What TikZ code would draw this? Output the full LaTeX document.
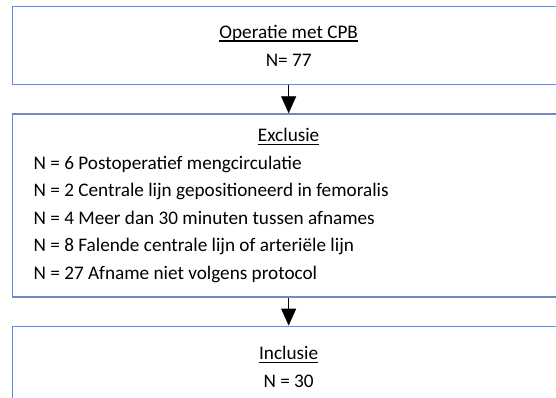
\documentclass[tikz,border=0pt]{standalone}
\usepackage{fontspec}
\setmainfont{Carlito}
\usetikzlibrary{arrows.meta,positioning}
\definecolor{boxBlue}{RGB}{118,136,192}

% underline as in the reference, a bit heavier than \underline
\newcommand{\headLine}[1]{\setbox0\hbox{#1}\rlap{\rule[-3pt]{\wd0}{1.1pt}}\box0}

\begin{document}
\begin{tikzpicture}[>={Triangle[width=15pt,length=17pt]}]

  \tikzstyle{flowBox} = [draw=boxBlue, line width=1.3pt, rectangle, minimum width=552pt, inner sep=0pt, font={\fontsize{19.2}{27.5}\selectfont}]
  \tikzstyle{flowEdge} = [black, line width=0.9pt, ->];

  % page size is fixed, the boxes run past the right and bottom edge
  \useasboundingbox (0,0) rectangle (556pt,-398pt);
  \clip (0,0) rectangle (556pt,-398pt);

  \node[flowBox, name=operatie, minimum height=78pt, align=center, anchor=north west] at (12pt,-6pt) {\headLine{Operatie met CPB}\\N= 77};
  \node[flowBox, name=exclusie, below=28pt of operatie, minimum height=183pt, text width=510pt, align=flush left] {\makebox[\linewidth]{\headLine{Exclusie}}\\
    N = 6 Postoperatief mengcirculatie\\
    N = 2 Centrale lijn gepositioneerd in femoralis\\
    N = 4 Meer dan 30 minuten tussen afnames\\
    N = 8 Falende centrale lijn of arteriële lijn\\
    N = 27 Afname niet volgens protocol};
  \node[flowBox, name=inclusie, below=28pt of exclusie, minimum height=81pt, align=center] {\headLine{Inclusie}\\N = 30};

  % operatie -> exclusie -> inclusie
  \draw (operatie) edge[flowEdge] (exclusie);
  \draw (exclusie) edge[flowEdge] (inclusie);

\end{tikzpicture}
\end{document}
